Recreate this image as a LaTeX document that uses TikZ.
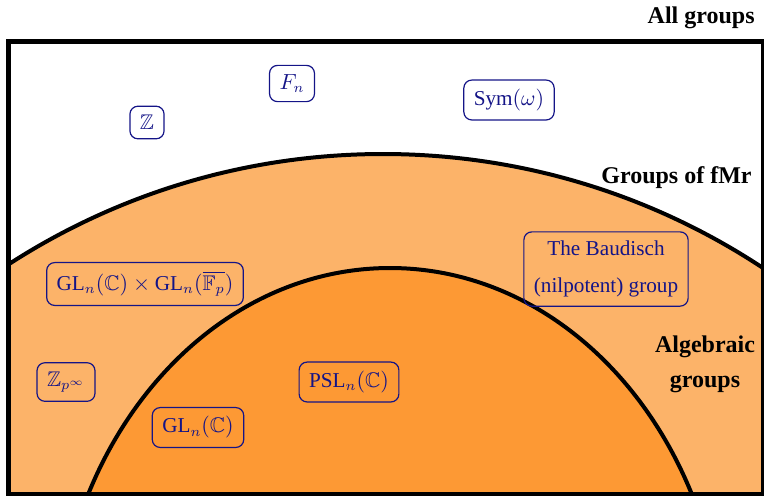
\documentclass[tikz,border=0pt]{standalone}
\usepackage{amsmath,amssymb}
\usepackage{fontspec}
\setmainfont{Liberation Serif}
\definecolor{fmrorange}{RGB}{252,179,105}
\definecolor{algorange}{RGB}{253,153,52}
\definecolor{grpblue}{RGB}{20,20,135}
\begin{document}
\begin{tikzpicture}[x=0.5pt, y=-0.5pt,
  grp/.style={draw=grpblue, text=grpblue, rounded corners=4pt, line width=0.6pt, inner xsep=5pt, inner ysep=4.5pt, font=\fontsize{10.6}{18.5}\selectfont, align=center},
  cls/.style={font=\bfseries\fontsize{12}{17.5}\selectfont, align=center, inner sep=0pt}]
\useasboundingbox (0,0) rectangle (764,495);
% regions: groups of fMr and algebraic groups
\begin{scope}
\clip (8.5,41.5) rectangle (763,494);
\filldraw[fill=fmrorange, line width=2pt] (383,844) circle (690);
\filldraw[fill=algorange, line width=2pt] (390,668) ellipse [x radius=335, y radius=400];
\end{scope}
\draw[line width=2.5pt] (8.5,41.5) rectangle (763,494);

% class names
\node[cls, anchor=east] (all) at (755,18) {All groups};
\node[cls, anchor=east] (fmr) at (752,178) {Groups of fMr};
\node[cls] (alg) at (705,364) {Algebraic\\groups};

% all groups
\node[grp] (z) at (147,122.5) {$\mathbb{Z}$};
\node[grp] (fn) at (292,83.5) {$F_n$};
\node[grp] (sym) at (509,100) {Sym$(\omega)$};

% groups of fMr
\node[grp] (glgl) at (145,284) {$\mathrm{GL}_n(\mathbb{C})\times\mathrm{GL}_n(\overline{\mathbb{F}_p})$};
\node[grp] (baud) at (606,269) {The Baudisch\\(nilpotent) group};
\node[grp] (zp) at (66,382) {$\mathbb{Z}_{p^\infty}$};

% algebraic groups
\node[grp] (gl) at (198,427.5) {$\mathrm{GL}_n(\mathbb{C})$};
\node[grp] (psl) at (349,382) {$\mathrm{PSL}_n(\mathbb{C})$};
\end{tikzpicture}
\end{document}
